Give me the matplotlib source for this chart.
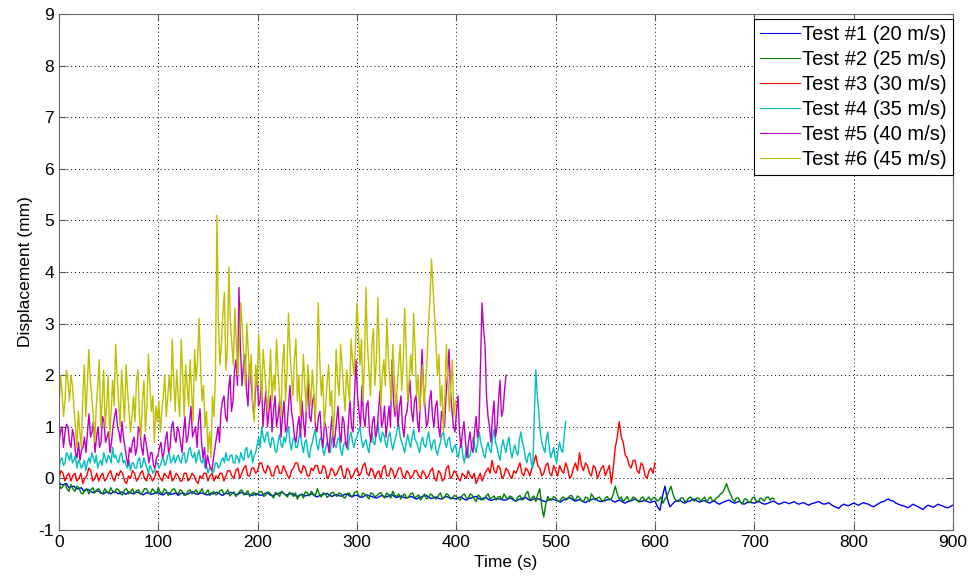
import numpy as np
import matplotlib
matplotlib.use("Agg")
import matplotlib.pyplot as plt

plt.rcParams['font.family'] = ['Liberation Sans', 'DejaVu Sans']
plt.rcParams['axes.unicode_minus'] = False

labels = ["Test #1 (20 m/s)", "Test #2 (25 m/s)", "Test #3 (30 m/s)",
          "Test #4 (35 m/s)", "Test #5 (40 m/s)", "Test #6 (45 m/s)"]
colors = ["#0000ff", "#008000", "#ff0000", "#00bfbf", "#bf00bf", "#bfbf00"]
durations = [900, 720, 600, 510, 450, 399]

# main samples
test1 = [-0.08, -0.12, -0.18, -0.15, -0.2, -0.25, -0.22, -0.28, -0.25, -0.3,
         -0.27, -0.25, -0.3, -0.28, -0.26, -0.3, -0.27, -0.32, -0.28, -0.3,
         -0.28, -0.32, -0.27, -0.3, -0.33, -0.28, -0.3, -0.26, -0.31, -0.29,
         -0.32, -0.3, -0.27, -0.33, -0.3, -0.28, -0.31, -0.27, -0.3, -0.33,
         -0.3, -0.32, -0.28, -0.34, -0.3, -0.27, -0.32, -0.29, -0.35, -0.31,
         -0.33, -0.3, -0.36, -0.32, -0.29, -0.35, -0.31, -0.34, -0.3, -0.36,
         -0.33, -0.37, -0.32, -0.35, -0.38, -0.33, -0.36, -0.31, -0.37, -0.34,
         -0.38, -0.35, -0.4, -0.36, -0.33, -0.39, -0.36, -0.4, -0.35, -0.38,
         -0.4, -0.36, -0.42, -0.38, -0.35, -0.41, -0.37, -0.43, -0.39, -0.4,
         -0.42, -0.38, -0.44, -0.4, -0.37, -0.43, -0.39, -0.41, -0.45, -0.4,
         -0.42, -0.46, -0.4, -0.38, -0.44, -0.41, -0.47, -0.42, -0.39, -0.45,
         -0.43, -0.4, -0.46, -0.42, -0.48, -0.44, -0.4, -0.45, -0.42, -0.47,
         -0.44, -0.62, -0.15, -0.55, -0.45, -0.42, -0.48, -0.44, -0.4, -0.46,
         -0.43, -0.48, -0.44, -0.5, -0.45, -0.42, -0.48, -0.44, -0.5, -0.46,
         -0.48, -0.45, -0.5, -0.47, -0.44, -0.5, -0.46, -0.49, -0.45, -0.5,
         -0.47, -0.52, -0.48, -0.45, -0.5, -0.47, -0.54, -0.58, -0.5, -0.53,
         -0.48, -0.52, -0.47, -0.5, -0.55, -0.49, -0.45, -0.4, -0.44, -0.5,
         -0.53, -0.57, -0.5, -0.55, -0.6, -0.52, -0.56, -0.5, -0.54, -0.57,
         -0.52]
test1_mid = [-0.12, -0.1, -0.16, -0.2, -0.18, -0.22, -0.26, -0.24, -0.29, -0.26,
             -0.3, -0.27, -0.26, -0.31, -0.28, -0.27, -0.3, -0.28, -0.31, -0.27,
             -0.31, -0.28, -0.31, -0.28, -0.29, -0.31, -0.27, -0.3, -0.28, -0.31,
             -0.29, -0.28, -0.31, -0.29, -0.27, -0.31, -0.28, -0.31, -0.32, -0.29,
             -0.33, -0.29, -0.32, -0.31, -0.28, -0.31, -0.3, -0.33, -0.32, -0.34,
             -0.31, -0.34, -0.33, -0.3, -0.33, -0.32, -0.34, -0.31, -0.34, -0.33,
             -0.36, -0.34, -0.34, -0.37, -0.35, -0.35, -0.33, -0.35, -0.35, -0.37,
             -0.36, -0.38, -0.37, -0.34, -0.37, -0.37, -0.39, -0.37, -0.37, -0.39,
             -0.37, -0.4, -0.39, -0.36, -0.39, -0.38, -0.41, -0.41, -0.4, -0.42,
             -0.39, -0.42, -0.41, -0.38, -0.41, -0.4, -0.4, -0.44, -0.42, -0.41,
             -0.44, -0.42, -0.38, -0.42, -0.42, -0.45, -0.44, -0.4, -0.43, -0.44,
             -0.41, -0.44, -0.43, -0.46, -0.45, -0.42, -0.43, -0.44, -0.45, -0.45,
             -0.55, -0.35, -0.4, -0.5, -0.43, -0.46, -0.45, -0.41, -0.44, -0.44,
             -0.46, -0.45, -0.48, -0.47, -0.43, -0.46, -0.46, -0.48, -0.47, -0.47,
             -0.46, -0.48, -0.49, -0.45, -0.48, -0.48, -0.47, -0.47, -0.48, -0.48,
             -0.5, -0.49, -0.46, -0.48, -0.49, -0.51, -0.56, -0.53, -0.52, -0.5,
             -0.5, -0.49, -0.49, -0.53, -0.52, -0.46, -0.42, -0.43, -0.48, -0.52,
             -0.55, -0.53, -0.53, -0.58, -0.55, -0.54, -0.53, -0.52, -0.56, -0.54]

test2 = [-0.1, -0.15, -0.2, -0.12, -0.25, -0.18, -0.3, -0.2, -0.22, -0.28,
         -0.2, -0.3, -0.25, -0.18, -0.28, -0.22, -0.32, -0.2, -0.26, -0.3,
         -0.22, -0.28, -0.2, -0.3, -0.25, -0.18, -0.3, -0.24, -0.28, -0.2,
         -0.3, -0.25, -0.32, -0.22, -0.27, -0.3, -0.2, -0.28, -0.33, -0.25,
         -0.3, -0.22, -0.28, -0.34, -0.26, -0.3, -0.22, -0.29, -0.35, -0.27,
         -0.3, -0.25, -0.33, -0.28, -0.38, -0.3, -0.25, -0.32, -0.27, -0.35,
         -0.4, -0.3, -0.26, -0.34, -0.3, -0.2, -0.36, -0.3, -0.33, -0.27,
         -0.35, -0.3, -0.38, -0.28, -0.33, -0.25, -0.36, -0.31, -0.4, -0.3,
         -0.33, -0.27, -0.38, -0.32, -0.25, -0.35, -0.4, -0.3, -0.36, -0.28,
         -0.35, -0.42, -0.3, -0.37, -0.33, -0.4, -0.28, -0.36, -0.32, -0.38,
         -0.35, -0.42, -0.3, -0.38, -0.33, -0.45, -0.36, -0.4, -0.3, -0.37,
         -0.42, -0.35, -0.3, -0.4, -0.36, -0.44, -0.33, -0.4, -0.25, -0.38,
         -0.45, -0.2, -0.75, -0.35, -0.42, -0.38, -0.45, -0.36, -0.4, -0.33,
         -0.42, -0.37, -0.45, -0.38, -0.3, -0.42, -0.36, -0.45, -0.35, -0.4,
         -0.15, -0.4, -0.45, -0.35, -0.42, -0.38, -0.46, -0.36, -0.4, -0.43,
         -0.37, -0.42, -0.48, -0.35, -0.15, -0.4, -0.45, -0.38, -0.43, -0.36,
         -0.44, -0.38, -0.4, -0.46, -0.36, -0.42, -0.35, -0.28, -0.1, -0.3,
         -0.45, -0.38, -0.5, -0.4, -0.47, -0.36, -0.44, -0.4, -0.37, -0.42,
         -0.4]
test2_mid = [-0.2, -0.1, -0.25, -0.2, -0.15, -0.28, -0.22, -0.3, -0.18, -0.22,
             -0.27, -0.2, -0.3, -0.25, -0.2, -0.3, -0.22, -0.3, -0.2, -0.24,
             -0.3, -0.2, -0.27, -0.2, -0.3, -0.27, -0.2, -0.33, -0.22, -0.27,
             -0.22, -0.33, -0.24, -0.3, -0.22, -0.26, -0.3, -0.22, -0.28, -0.32,
             -0.24, -0.3, -0.22, -0.3, -0.35, -0.25, -0.32, -0.24, -0.3, -0.33,
             -0.26, -0.35, -0.26, -0.32, -0.27, -0.35, -0.28, -0.36, -0.3, -0.28,
             -0.33, -0.38, -0.28, -0.25, -0.34, -0.3, -0.28, -0.37, -0.28, -0.32,
             -0.28, -0.36, -0.3, -0.35, -0.27, -0.34, -0.28, -0.35, -0.28, -0.36,
             -0.3, -0.35, -0.28, -0.38, -0.33, -0.3, -0.34, -0.38, -0.3, -0.38,
             -0.32, -0.36, -0.4, -0.3, -0.38, -0.33, -0.4, -0.3, -0.4, -0.33,
             -0.4, -0.33, -0.38, -0.3, -0.4, -0.32, -0.42, -0.34, -0.4, -0.34,
             -0.36, -0.42, -0.37, -0.34, -0.42, -0.36, -0.42, -0.3, -0.42, -0.34,
             -0.3, -0.55, -0.5, -0.42, -0.35, -0.44, -0.38, -0.42, -0.34, -0.4,
             -0.34, -0.44, -0.36, -0.45, -0.36, -0.38, -0.42, -0.38, -0.42, -0.3,
             -0.3, -0.36, -0.4, -0.44, -0.36, -0.43, -0.38, -0.44, -0.36, -0.38,
             -0.44, -0.36, -0.4, -0.25, -0.3, -0.44, -0.38, -0.45, -0.38, -0.42,
             -0.38, -0.44, -0.36, -0.4, -0.44, -0.38, -0.3, -0.2, -0.22, -0.4,
             -0.38, -0.46, -0.4, -0.46, -0.38, -0.45, -0.38, -0.44, -0.36, -0.38]

test3 = [0.0, 0.1, 0.05, -0.05, 0.1, 0.0, -0.1, 0.05, 0.15, 0.0,
         -0.05, 0.1, 0.0, 0.15, -0.05, 0.05, 0.1, -0.1, 0.0, 0.1,
         0.0, 0.15, -0.05, 0.05, 0.0, 0.1, -0.05, 0.05, 0.15, 0.0,
         0.05, -0.05, 0.1, 0.0, 0.05, -0.1, 0.0, 0.1, 0.05, -0.05,
         0.0, 0.1, 0.05, 0.15, 0.0, 0.2, 0.1, 0.25, 0.05, 0.2,
         0.15, 0.3, 0.1, 0.2, 0.05, 0.25, 0.1, 0.15, 0.0, 0.2,
         0.3, 0.1, 0.2, 0.05, 0.15, 0.25, 0.1, 0.2, 0.05, 0.15,
         0.1, 0.25, 0.0, 0.15, 0.05, 0.2, 0.1, 0.3, 0.05, 0.15,
         0.1, 0.0, 0.25, 0.05, 0.15, 0.1, 0.2, 0.0, 0.1, 0.05,
         0.15, 0.0, 0.1, 0.05, 0.2, -0.05, 0.1, 0.0, 0.25, 0.05,
         0.1, -0.05, 0.05, 0.15, 0.0, -0.1, 0.1, 0.05, 0.2, 0.35,
         0.1, 0.2, 0.05, 0.15, 0.0, 0.1, 0.3, 0.05, 0.15, 0.2,
         0.45, 0.2, 0.1, 0.3, 0.05, 0.15, 0.25, 0.1, 0.2, 0.05,
         0.3, 0.5, 0.15, 0.25, 0.05, 0.2, 0.1, 0.25, 0.15, -0.1,
         0.6, 1.1, 0.7, 0.4, 0.2, 0.35, 0.1, 0.25, 0.0, 0.2,
         0.3]
test3_mid = [0.15, -0.05, 0.1, 0.05, -0.05, 0.1, 0.0, 0.2, -0.05, 0.1,
             0.05, -0.05, 0.1, 0.0, 0.1, 0.15, -0.05, 0.05, 0.15, -0.05,
             0.1, 0.0, 0.1, -0.05, 0.15, 0.0, 0.1, 0.0, -0.05, 0.1,
             -0.05, 0.1, -0.05, 0.1, -0.05, 0.05, 0.1, -0.05, 0.1, 0.05,
             0.1, -0.05, 0.15, 0.05, 0.15, 0.0, 0.2, 0.05, 0.2, 0.1,
             0.3, 0.15, 0.25, 0.05, 0.2, 0.1, 0.25, 0.05, 0.15, 0.3,
             0.15, 0.25, 0.05, 0.2, 0.25, 0.1, 0.25, 0.0, 0.2, 0.05,
             0.2, 0.05, 0.2, 0.0, 0.15, 0.05, 0.25, 0.1, 0.2, 0.0,
             0.15, 0.2, 0.05, 0.2, 0.0, 0.2, 0.05, 0.15, 0.0, 0.15,
             0.05, 0.15, 0.0, 0.15, 0.0, 0.15, -0.05, 0.2, 0.0, 0.15,
             0.0, 0.1, 0.0, 0.05, 0.1, 0.0, -0.05, 0.15, 0.1, 0.15,
             0.25, 0.0, 0.2, 0.05, 0.15, 0.2, 0.1, 0.2, 0.05, 0.3,
             0.25, 0.05, 0.25, 0.1, 0.25, 0.05, 0.15, 0.3, 0.0, 0.2,
             0.15, 0.25, 0.3, 0.1, 0.25, 0.0, 0.2, 0.05, 0.25, 0.2,
             0.8, 0.8, 0.45, 0.25, 0.35, 0.15, 0.3, 0.05, 0.15, 0.1]

test4 = [0.2, 0.4, 0.3, 0.45, 0.5, 0.35, 0.2, 0.3, 0.25, 0.15,
         0.4, 0.5, 0.3, 0.2, 0.35, 0.5, 0.3, 0.4, 0.6, 0.45,
         0.3, 0.5, 0.35, 0.2, 0.15, 0.3, 0.2, 0.4, 0.25, 0.3,
         0.1, 0.2, 0.15, 0.3, 0.25, 0.4, 0.3, 0.5, 0.35, 0.3,
         0.45, 0.3, 0.5, 0.35, 0.6, 0.4, 0.3, 0.55, 0.3, 0.2,
         0.1, 0.2, 0.15, 0.3, 0.25, 0.4, 0.5, 0.35, 0.45, 0.3,
         0.4, 0.5, 0.35, 0.6, 0.45, 0.3, 0.5, 0.8, 1.0, 0.7,
         0.9, 0.6, 0.75, 0.5, 0.85, 0.6, 0.7, 1.0, 0.55, 0.8,
         0.6, 0.9, 0.5, 0.75, 0.4, 0.7, 0.95, 0.55, 0.8, 0.45,
         0.7, 0.5, 0.9, 0.6, 0.8, 0.45, 0.7, 0.55, 0.9, 0.6,
         0.8, 1.0, 0.6, 0.75, 0.5, 0.9, 0.65, 1.1, 0.7, 0.85,
         0.6, 0.9, 0.55, 0.8, 1.05, 0.7, 0.5, 0.85, 0.6, 0.95,
         0.7, 0.5, 0.8, 0.6, 0.9, 0.55, 0.75, 0.45, 0.7, 0.9,
         0.6, 0.8, 0.5, 0.65, 0.4, 0.7, 0.3, 0.6, 0.45, 0.8,
         0.5, 0.9, 0.6, 0.4, 0.7, 0.5, 0.95, 0.6, 0.35, 0.75,
         0.5, 0.8, 0.4, 0.65, 0.45, 0.9, 0.6, 0.3, 0.5, 0.2,
         2.1, 1.3, 0.7, 0.5, 0.9, 0.4, 0.6, 0.3, 0.7, 0.5,
         1.1]
test4_mid = [0.35, 0.25, 0.5, 0.35, 0.3, 0.45, 0.35, 0.2, 0.35, 0.3,
             0.3, 0.4, 0.45, 0.3, 0.25, 0.4, 0.45, 0.3, 0.4, 0.35,
             0.45, 0.3, 0.25, 0.35, 0.3, 0.2, 0.35, 0.2, 0.4, 0.2,
             0.25, 0.1, 0.3, 0.2, 0.35, 0.25, 0.45, 0.3, 0.45, 0.4,
             0.35, 0.45, 0.3, 0.55, 0.45, 0.5, 0.45, 0.35, 0.4, 0.25,
             0.2, 0.1, 0.3, 0.2, 0.35, 0.3, 0.35, 0.45, 0.3, 0.45,
             0.3, 0.4, 0.55, 0.4, 0.55, 0.45, 0.65, 0.6, 0.8, 0.85,
             0.7, 0.8, 0.55, 0.7, 0.65, 0.8, 0.9, 0.7, 0.75, 0.6,
             0.8, 0.65, 0.7, 0.5, 0.6, 0.85, 0.65, 0.75, 0.55, 0.6,
             0.6, 0.75, 0.65, 0.75, 0.55, 0.65, 0.6, 0.8, 0.7, 0.75,
             0.9, 0.75, 0.7, 0.6, 0.75, 0.7, 0.9, 0.8, 0.9, 0.7,
             0.8, 0.7, 0.7, 0.95, 0.8, 0.6, 0.7, 0.7, 0.8, 0.75,
             0.6, 0.7, 0.65, 0.75, 0.7, 0.7, 0.55, 0.6, 0.85, 0.7,
             0.75, 0.6, 0.6, 0.5, 0.6, 0.45, 0.5, 0.4, 0.65, 0.6,
             0.7, 0.7, 0.45, 0.6, 0.55, 0.8, 0.7, 0.45, 0.6, 0.6,
             0.7, 0.55, 0.55, 0.5, 0.75, 0.7, 0.4, 0.45, 0.3, 1.2,
             1.6, 0.9, 0.6, 0.75, 0.6, 0.5, 0.4, 0.55, 0.55, 0.8]

test5 = [0.7, 1.0, 0.9, 1.0, 0.6, 0.8, 0.4, 0.35, 0.6, 0.5,
         1.25, 0.9, 0.5, 1.0, 0.7, 1.1, 0.8, 0.5, 1.0, 1.35,
         0.9, 1.1, 0.6, 0.25, 0.5, 0.8, 0.6, 0.9, 0.45, 0.7,
         0.3, 0.5, 0.2, 0.45, 0.7, 0.5, 0.9, 0.6, 1.1, 0.7,
         0.9, 0.5, 1.2, 0.8, 1.4, 0.9, 0.6, 1.35, 0.4, 0.2,
         0.3, 0.15, 0.6, 1.0, 1.3, 1.6, 1.1, 2.0, 1.5, 2.3,
         3.7, 1.8, 2.4, 1.4, 1.9, 1.2, 2.1, 1.5, 1.0, 1.7,
         1.3, 0.9, 1.6, 1.2, 0.8, 1.5, 1.0, 1.8, 1.1, 0.7,
         1.2, 1.5, 0.8, 1.9, 1.1, 1.6, 0.9, 1.3, 0.6, 1.0,
         0.5, 1.2, 0.8, 1.4, 0.7, 1.1, 0.6, 1.5, 0.9, 2.3,
         1.3, 1.8, 1.0, 1.5, 0.7, 1.2, 0.9, 1.7, 1.1, 0.8,
         1.4, 2.3, 1.2, 1.0, 1.6, 0.8, 1.3, 1.9, 1.1, 1.6,
         0.9, 2.5, 1.4, 1.1, 1.7, 1.0, 1.5, 0.8, 1.2, 1.6,
         2.5, 1.3, 0.9, 1.6, 0.6, 1.1, 0.4, 0.9, 0.5, 1.2,
         1.0, 3.4, 2.6, 1.2, 0.7, 1.5, 1.0, 1.9, 1.3, 2.0]
test5_mid = [0.9, 0.6, 1.05, 0.7, 0.95, 0.5, 0.7, 0.55, 0.8, 0.9,
             0.8, 1.1, 0.8, 0.6, 1.2, 0.7, 0.9, 0.7, 1.2, 1.0,
             0.7, 0.8, 0.4, 0.6, 0.7, 0.45, 1.0, 0.6, 0.85, 0.5,
             0.5, 0.25, 0.4, 0.6, 0.4, 0.75, 0.5, 1.0, 0.8, 1.0,
             0.7, 0.9, 0.7, 1.1, 0.8, 1.0, 1.1, 0.7, 0.6, 0.45,
             0.2, 0.4, 0.8, 0.7, 1.5, 1.2, 1.7, 1.3, 2.1, 1.8,
             2.5, 2.2, 1.7, 2.2, 1.5, 1.7, 1.4, 1.9, 1.4, 1.0,
             1.6, 1.3, 1.0, 1.5, 1.2, 0.9, 1.4, 1.3, 0.8, 1.0,
             0.8, 1.1, 1.4, 1.2, 1.5, 1.0, 1.2, 0.8, 1.1, 0.7,
             0.9, 0.6, 1.1, 0.9, 1.2, 0.7, 1.1, 1.0, 1.6, 1.6,
             1.0, 1.2, 1.4, 0.9, 1.1, 0.8, 1.3, 1.0, 1.4, 1.1,
             1.0, 1.5, 1.6, 1.4, 1.0, 1.2, 1.6, 1.3, 1.5, 1.1,
             1.6, 1.8, 1.0, 1.5, 1.2, 1.4, 1.0, 1.3, 1.0, 2.0,
             1.7, 1.0, 1.3, 0.9, 0.9, 0.7, 0.7, 0.6, 0.9, 0.8,
             2.2, 2.9, 1.6, 1.0, 1.2, 0.8, 1.5, 1.2, 1.7]

test6 = [1.3, 1.7, 1.5, 1.9, 2.0, 1.4, 0.6, 0.9, 1.6, 1.2,
         2.5, 1.6, 0.7, 1.8, 1.0, 2.1, 1.4, 0.8, 1.9, 2.6,
         1.5, 2.1, 1.1, 1.7, 0.9, 1.6, 1.9, 1.2, 1.5, 0.9,
         2.4, 1.3, 0.7, 1.1, 0.9, 1.6, 1.2, 2.0, 2.7, 1.3,
         1.6, 2.7, 1.2, 1.8, 2.3, 1.1, 1.9, 3.1, 1.5, 1.0,
         0.5, 0.4, 1.2, 5.1, 2.2, 3.2, 2.1, 4.1, 2.6, 3.3,
         2.0, 3.4, 2.4, 3.0, 1.9, 1.4, 2.2, 2.8, 1.5, 2.1,
         1.3, 2.5, 2.0, 2.7, 1.6, 2.2, 1.5, 3.2, 2.0, 2.3,
         1.5, 1.2, 2.4, 1.3, 1.8, 2.1, 1.1, 3.4, 1.6, 1.0,
         1.9, 1.4, 0.8, 2.5, 1.6, 2.2, 1.3, 1.8, 2.7, 2.0,
         3.4, 2.2, 1.5, 3.7, 2.1, 2.6, 1.8, 3.5, 1.4, 2.3,
         3.1, 1.9, 2.6, 1.3, 2.2, 1.7, 3.3, 1.5, 2.4, 3.2,
         1.6, 1.3, 2.2, 1.8, 3.0, 4.25, 3.2, 2.0, 1.4, 0.9,
         2.6, 1.3, 2.3, 1.5]
test6_mid = [2.0, 1.2, 2.1, 1.5, 1.8, 1.0, 1.3, 0.6, 2.2, 1.8,
             1.9, 1.2, 1.4, 2.3, 1.5, 1.0, 2.0, 1.3, 1.4, 2.0,
             1.0, 1.6, 2.2, 1.3, 1.2, 1.1, 2.1, 0.8, 1.9, 1.4,
             1.8, 1.6, 1.4, 1.5, 1.3, 2.0, 1.6, 1.5, 1.9, 2.1,
             1.2, 2.0, 2.2, 1.4, 1.7, 2.5, 2.3, 2.2, 1.8, 1.3,
             0.9, 1.6, 2.0, 3.0, 2.6, 3.6, 2.5, 3.0, 2.2, 2.6,
             2.6, 2.9, 1.8, 2.5, 2.4, 1.1, 1.8, 2.2, 2.5, 1.7,
             1.8, 1.5, 1.7, 2.1, 1.2, 2.6, 2.0, 2.5, 1.6, 2.7,
             2.0, 1.7, 1.8, 2.2, 1.4, 1.7, 1.9, 2.3, 2.0, 1.4,
             2.2, 1.7, 1.4, 1.9, 2.6, 1.7, 2.1, 1.5, 2.3, 2.6,
             2.8, 2.7, 2.2, 2.6, 1.6, 2.9, 2.3, 2.4, 2.0, 1.8,
             2.4, 1.5, 2.0, 1.8, 2.6, 2.2, 2.5, 1.9, 2.0, 2.5,
             2.0, 1.7, 1.4, 2.3, 3.5, 3.7, 2.6, 2.4, 1.8, 1.6,
             1.9, 1.8, 1.2]

series = [(test1, test1_mid), (test2, test2_mid), (test3, test3_mid),
          (test4, test4_mid), (test5, test5_mid), (test6, test6_mid)]

x_ticks = [0, 100, 200, 300, 400, 500, 600, 700, 800, 900]
y_ticks = [-1, 0, 1, 2, 3, 4, 5, 6, 7, 8, 9]

fig = plt.figure(figsize=(9.74, 5.84), dpi=100)
ax = fig.add_axes([59 / 974, 1 - 530 / 584, (953 - 59) / 974, (530 - 14) / 584])

for (vals, mids), dur, col, lab in zip(series, durations, colors, labels):
    y = np.empty(len(vals) + len(mids))
    y[0::2] = vals
    y[1::2] = mids
    t = np.linspace(0, dur, len(y))
    ax.plot(t, y, color=col, lw=1.0, label=lab)

ax.set_xlim(0, 900)
ax.set_ylim(-1, 9)
ax.set_xticks(x_ticks)
ax.set_yticks(y_ticks)
ax.grid(True, color='black', linestyle=(0, (1, 3)), linewidth=0.7)
ax.tick_params(direction='in', top=True, right=True, labelsize=12.5,
               length=5, color='#555555')
for sp in ax.spines.values():
    sp.set_color('#666666')
ax.set_xlabel("Time (s)", fontsize=12.5, labelpad=4)
ax.set_ylabel("Displacement (mm)", fontsize=12.5, labelpad=4)

leg = ax.legend(loc='upper right', bbox_to_anchor=(0.9995, 0.99), fontsize=14.5,
                fancybox=False, edgecolor='black', framealpha=1,
                handlelength=2.0, handletextpad=0.1, labelspacing=0.3,
                borderpad=0.3, borderaxespad=0.0)
leg.get_frame().set_linewidth(0.8)
for line in leg.get_lines():
    line.set_linewidth(0.8)

fig.savefig("out.png", dpi=100)
